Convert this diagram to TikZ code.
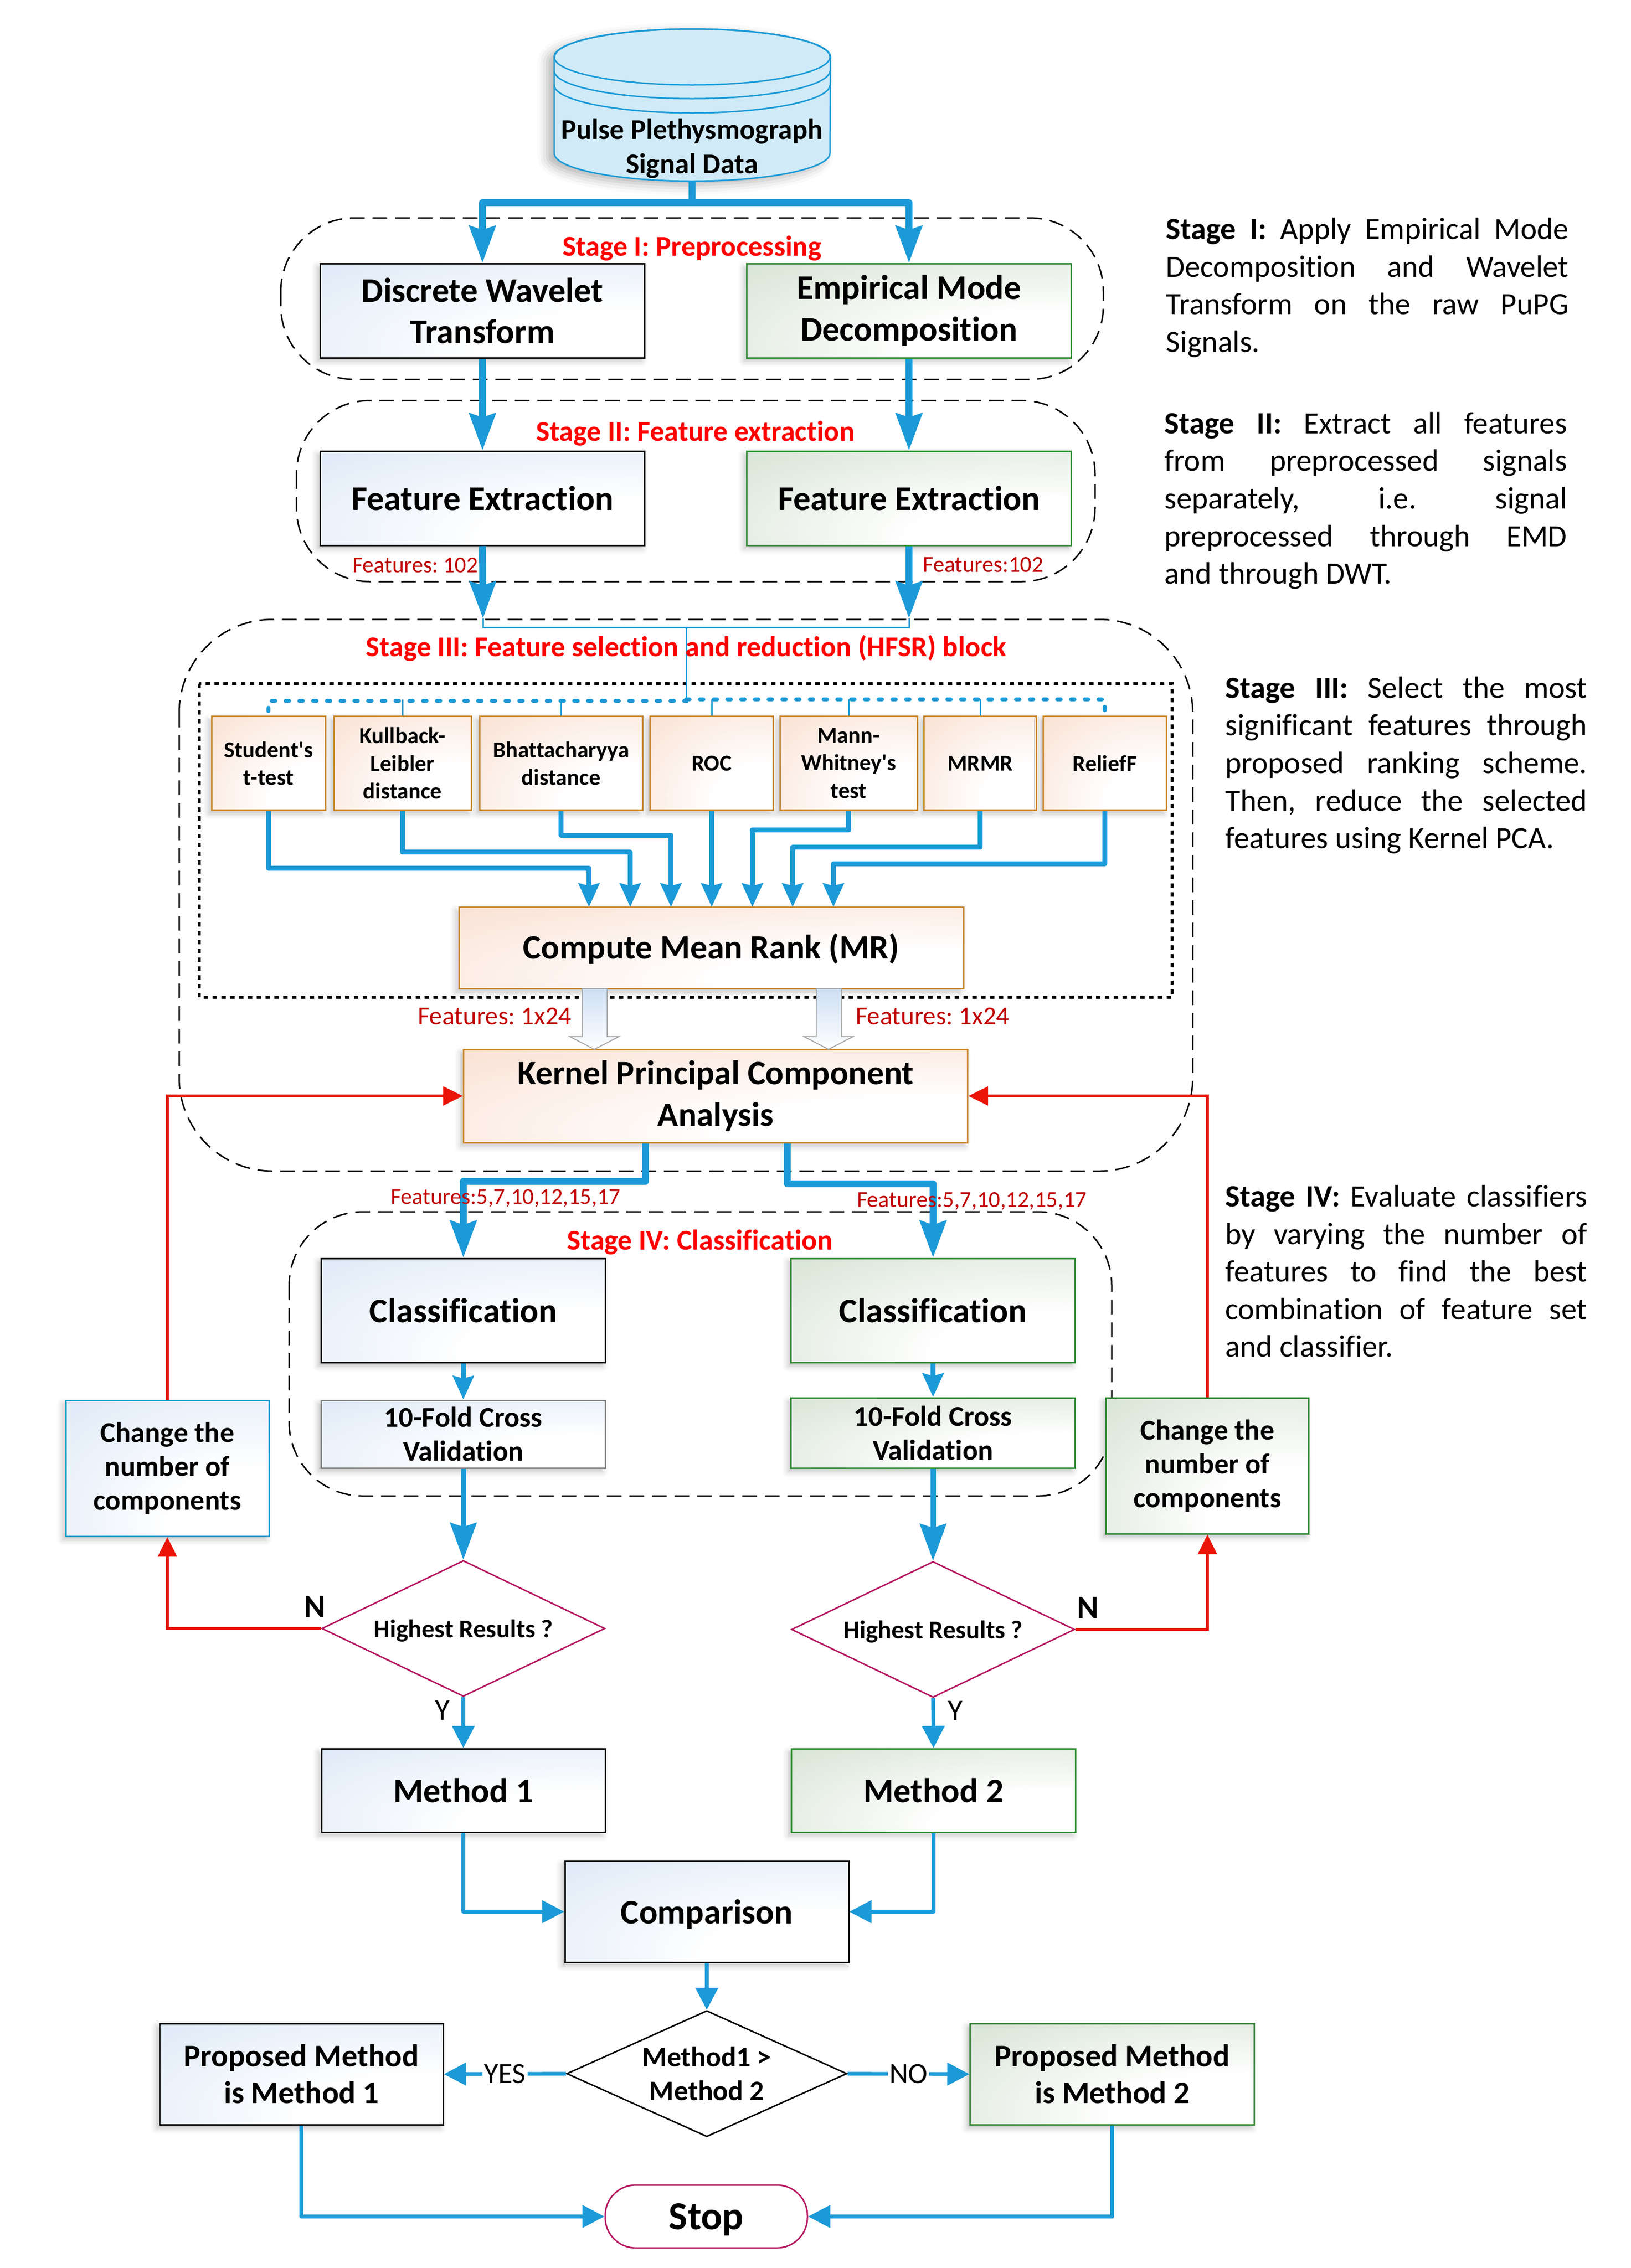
\documentclass[tikz,border=0pt]{standalone}
\usepackage{fontspec}
\setmainfont{Carlito}[Ligatures={TeXOff,NoCommon}]
\usepackage{xcolor}
\usetikzlibrary{shapes.geometric,arrows.meta,calc,shadows.blur}

\definecolor{flowblue}{HTML}{1B9AD7}
\definecolor{cylfill}{HTML}{D0EBF7}
\definecolor{bluetint}{HTML}{CEDFF3}
\definecolor{greentint}{HTML}{C4D7C0}
\definecolor{peachtint}{HTML}{F7D3BE}
\definecolor{greenedge}{HTML}{2E8B32}
\definecolor{orangeedge}{HTML}{C9872C}
\definecolor{crimson}{HTML}{B5165F}
\definecolor{featred}{HTML}{C00000}
\definecolor{loopred}{HTML}{EB1409}

\pgfdeclareradialshading{bluefade}{\pgfpoint{25bp}{-25bp}}{color(0bp)=(white); color(20bp)=(white); color(72bp)=(bluetint); color(120bp)=(bluetint)}
\pgfdeclareradialshading{greenfade}{\pgfpoint{25bp}{-25bp}}{color(0bp)=(white); color(20bp)=(white); color(72bp)=(greentint); color(120bp)=(greentint)}
\pgfdeclareradialshading{peachfade}{\pgfpoint{25bp}{-25bp}}{color(0bp)=(white); color(20bp)=(white); color(72bp)=(peachtint); color(120bp)=(peachtint)}

\tikzset{
    softshadow/.style={blur shadow={shadow xshift=-.06cm, shadow yshift=-.07cm, shadow blur radius=.12cm, shadow opacity=24}},
    basebox/.style={rectangle, inner sep=0pt, align=center, line width=.03cm, softshadow, font=\bfseries\fontsize{20}{24.1}\selectfont},
    bluebox/.style={basebox, draw=black, shade, shading=bluefade},
    greenbox/.style={basebox, draw=greenedge, shade, shading=greenfade},
    peachbox/.style={basebox, draw=orangeedge, shade, shading=peachfade},
    rankbox/.style={peachbox, minimum height=1.91cm, font=\bfseries\fontsize{13.2}{16}\selectfont},
    foldfont/.style={font=\bfseries\fontsize{16.6}{19.7}\selectfont},
    propfont/.style={font=\bfseries\fontsize{18.2}{21.3}\selectfont},
    decision/.style={diamond, shape aspect=2.083, draw=crimson, line width=.03cm, inner sep=0pt, text depth=0pt, align=center, minimum width=5.77cm, minimum height=2.77cm, font=\bfseries\fontsize{14.8}{18}\selectfont},
    stagebox/.style={dash pattern=on .3cm off .16cm, line width=.03cm},
    stagetitle/.style={text=red, inner sep=0pt, font=\bfseries\fontsize{16.6}{20}\selectfont},
    featlabel/.style={text=featred, inner sep=0pt, font=\fontsize{13.2}{18}\selectfont},
    sidetext/.style={inner sep=0pt, anchor=west, align=justify, font=\fontsize{17.9}{21.8}\selectfont},
    bigflow/.style={draw=flowblue, line width=.14cm, line join=round, -{Stealth[length=.75cm,width=.53cm,inset=.08cm]}, flowblue},
    midflow/.style={draw=flowblue, line width=.1cm, line join=round, -{Stealth[length=.48cm,width=.42cm,inset=.05cm]}, flowblue},
    smallflow/.style={draw=flowblue, line width=.075cm, line join=round, -{Stealth[length=.45cm,width=.45cm,inset=0pt]}, flowblue},
    redflow/.style={draw=loopred, line width=.055cm, -{Stealth[length=.4cm,width=.38cm,inset=0pt]}, loopred},
    hairline/.style={draw=flowblue, line width=.03cm},
    dotline/.style={draw=flowblue, line width=.08cm, line cap=round, dash pattern=on .07cm off .21cm},
    blockarrow/.style={draw=gray!70, line width=.02cm, top color=bluetint, bottom color=white},
    flowtag/.style={fill=white, text=black, inner sep=1pt, font=\fontsize{16.9}{20}\selectfont},
    branchtag/.style={inner sep=0pt, font=\fontsize{17.5}{20}\selectfont}
}

\begin{document}
\frenchspacing
\begin{tikzpicture}[x=1cm, y=-1cm]
    \useasboundingbox (0,0) rectangle (33.22,46.21);

    % Stage outlines
    \draw[stagebox, rounded corners=1.5cm] (5.72,4.44) rectangle (22.48,7.73);
    \draw[stagebox, rounded corners=1.5cm] (6.04,8.16) rectangle (22.31,11.85);
    \draw[stagebox, rounded corners=1.9cm] (3.65,12.62) rectangle (24.30,23.86);
    \draw[stagebox, rounded corners=1.5cm] (5.89,24.69) rectangle (22.65,30.48);
    \draw[line width=.055cm, dash pattern=on .09cm off .09cm] (4.06,13.93) rectangle (23.88,20.32);

    % Signal data (Cylinder)
    \draw[draw=flowblue, fill=cylfill, line width=.03cm, blur shadow={shadow xshift=-.14cm, shadow yshift=-.08cm, shadow blur radius=.2cm, shadow opacity=30}] (11.29,1.16) -- (11.29,3.12)
        arc[start angle=180, end angle=360, x radius=2.81cm, y radius=.57cm] -- (16.92,1.16)
        arc[start angle=0, end angle=180, x radius=2.81cm, y radius=.57cm] -- cycle;
    \draw[draw=flowblue, line width=.03cm] (14.10,1.16) ellipse [x radius=2.81cm, y radius=.57cm];
    \draw[draw=flowblue, line width=.03cm] (11.29,1.44) arc[start angle=180, end angle=360, x radius=2.81cm, y radius=.57cm];
    \draw[draw=flowblue, line width=.03cm] (11.29,1.73) arc[start angle=180, end angle=360, x radius=2.81cm, y radius=.57cm];
    \node[inner sep=0pt, align=center, font=\bfseries\fontsize{16.55}{19.8}\selectfont] (data) at (14.10,3.03) {Pulse Plethysmograph\\Signal Data};
    \coordinate (datafoot) at (14.10,3.69);
    \coordinate (split) at (14.10,4.13);

    % Stage I and II boxes
    \node[bluebox, minimum width=6.61cm, minimum height=1.92cm] (dwt) at (9.83,6.33) {Discrete Wavelet\\Transform};
    \node[greenbox, minimum width=6.61cm, minimum height=1.92cm] (emd) at (18.52,6.33) {Empirical Mode\\Decomposition};
    \node[bluebox, minimum width=6.61cm, minimum height=1.92cm] (feata) at (9.83,10.15) {Feature Extraction};
    \node[greenbox, minimum width=6.61cm, minimum height=1.92cm] (featb) at (18.52,10.15) {Feature Extraction};
    \coordinate (tipa) at (9.84,12.60);
    \coordinate (tipb) at (18.52,12.60);
    \coordinate (hub) at (13.98,12.78);
    \coordinate (hubdot) at (13.98,14.25);

    % Ranking methods
    \node[rankbox, minimum width=2.32cm] (ttest) at (5.47,15.55) {Student's\\t-test};
    \node[rankbox, minimum width=2.80cm] (kl) at (8.20,15.55) {Kullback-\\Leibler\\distance};
    \node[rankbox, minimum width=3.32cm] (bhatt) at (11.43,15.55) {Bhattacharyya\\distance};
    \node[rankbox, minimum width=2.51cm] (roc) at (14.50,15.55) {ROC};
    \node[rankbox, minimum width=2.80cm] (mann) at (17.29,15.55) {Mann-\\Whitney's\\test};
    \node[rankbox, minimum width=2.29cm] (mrmr) at (19.97,15.55) {MRMR};
    \node[rankbox, minimum width=2.51cm] (relief) at (22.51,15.55) {ReliefF};

    \node[peachbox, minimum width=10.28cm, minimum height=1.66cm, text depth=.06cm, font=\bfseries\fontsize{19.8}{24}\selectfont] (mean) at (14.49,19.31) {Compute Mean Rank (MR)};
    \node[peachbox, minimum width=10.27cm, minimum height=1.90cm, font=\bfseries\fontsize{19.8}{24.1}\selectfont] (kpca) at (14.58,22.33) {Kernel Principal Component\\Analysis};

    % Hollow arrows between mean rank and kernel step
    \draw[blockarrow] (11.86,20.14) -- (11.86,21.12) -- (11.61,21.12) -- (12.11,21.38) -- (12.61,21.12) -- (12.37,21.12) -- (12.37,20.14) -- cycle;
    \draw[blockarrow] (16.63,20.14) -- (16.63,21.12) -- (16.38,21.12) -- (16.88,21.38) -- (17.38,21.12) -- (17.14,21.12) -- (17.14,20.14) -- cycle;

    \coordinate (ina) at (12.00,18.48);
    \coordinate (inb) at (12.84,18.48);
    \coordinate (inc) at (13.67,18.48);
    \coordinate (ind) at (14.50,18.48);
    \coordinate (ine) at (15.33,18.48);
    \coordinate (inf) at (16.15,18.48);
    \coordinate (ing) at (16.98,18.48);

    % Stage IV boxes
    \node[bluebox, minimum width=5.79cm, minimum height=2.12cm] (classa) at (9.44,26.70) {Classification};
    \node[greenbox, minimum width=5.79cm, minimum height=2.12cm] (classb) at (19.01,26.70) {Classification};
    \node[basebox, foldfont, draw=gray, shade, shading=bluefade, minimum width=5.79cm, minimum height=1.38cm] (folda) at (9.44,29.22) {10-Fold Cross\\Validation};
    \node[greenbox, foldfont, minimum width=5.79cm, minimum height=1.43cm] (foldb) at (19.01,29.195) {10-Fold Cross\\Validation};
    \node[basebox, foldfont, draw=flowblue, shade, shading=bluefade, minimum width=4.14cm, minimum height=2.77cm] (changea) at (3.41,29.915) {Change the\\number of\\components};
    \node[greenbox, foldfont, minimum width=4.13cm, minimum height=2.77cm] (changeb) at (24.60,29.865) {Change the\\number of\\components};
    \node[decision] (besta) at (9.44,33.18) {Highest Results ?};
    \node[decision] (bestb) at (19.01,33.20) {Highest Results ?};

    % Final boxes
    \node[bluebox, minimum width=5.78cm, minimum height=1.70cm] (metha) at (9.44,36.48) {Method 1};
    \node[greenbox, minimum width=5.79cm, minimum height=1.70cm] (methb) at (19.02,36.48) {Method 2};
    \node[bluebox, minimum width=5.78cm, minimum height=2.06cm, text depth=0pt] (compare) at (14.40,38.95) {Comparison};
    \node[diamond, shape aspect=2.22, draw=black, line width=.03cm, inner sep=0pt, align=center, minimum width=5.71cm, minimum height=2.57cm, font=\bfseries\fontsize{16.4}{19.6}\selectfont] (choice) at (14.40,42.25) {Method1 >\\Method 2};
    \node[basebox, propfont, draw=black, shade, shading=bluefade, minimum width=5.78cm, minimum height=2.06cm] (propa) at (6.14,42.26) {Proposed Method\\is Method 1};
    \node[greenbox, propfont, minimum width=5.79cm, minimum height=2.06cm] (propb) at (22.66,42.26) {Proposed Method\\is Method 2};
    \node[draw=crimson, fill=white, rounded corners=.62cm, line width=.03cm, inner sep=0pt, text depth=0pt, minimum width=4.12cm, minimum height=1.28cm, font=\bfseries\fontsize{23}{26}\selectfont] (stop) at (14.39,45.16) {Stop};

    % Top connectors
    \draw[bigflow] (datafoot) -- (split) -| (dwt.north);
    \draw[bigflow] (datafoot) -- (split) -| (emd.north);
    \draw[bigflow] (dwt.south) -- (feata.north);
    \draw[bigflow] (emd.south) -- (featb.north);
    \draw[bigflow] (feata.south) -- (tipa);
    \draw[bigflow] (featb.south) -- (tipb);
    \draw[hairline] (tipa) |- (hub) -| (tipb);
    \draw[hairline] (hub) -- (hubdot);
    \draw[dotline] (hubdot) -- ++(0,.03) -| (ttest.north);
    \draw[dotline] (hubdot) -| (relief.north);
    \draw[hairline] (kl.north) -- (kl.north |- hubdot);
    \draw[hairline] (bhatt.north) -- (bhatt.north |- hubdot);
    \draw[hairline] (roc.north) -- (roc.north |- hubdot);
    \draw[hairline] (mann.north) -- (mann.north |- hubdot);
    \draw[hairline] (mrmr.north) -- (mrmr.north |- hubdot);

    % Ranks into mean rank
    \draw[midflow] (ttest.south) -- ++(0,1.17) -| (ina);
    \draw[midflow] (kl.south) -- ++(0,.84) -| (inb);
    \draw[midflow] (bhatt.south) -- ++(0,.50) -| (inc);
    \draw[midflow] (roc.south) -- (ind);
    \draw[midflow] (mann.south) -- ++(0,.39) -| (ine);
    \draw[midflow] (mrmr.south) -- ++(0,.74) -| (inf);
    \draw[midflow] (relief.south) -- ++(0,1.08) -| (ing);

    % Out of the kernel step
    \draw[bigflow] (kpca.south -| 13.15,0) -- ++(0,.77) -| (classa.north);
    \draw[bigflow] (kpca.south -| 16.04,0) -- ++(0,.82) -| (classb.north);
    \draw[midflow] (classa.south) -- (folda.north);
    \draw[midflow] (classb.south) -- (foldb.north);
    \draw[bigflow, line width=.11cm] (folda.south) -- (besta.north);
    \draw[bigflow, line width=.11cm] (foldb.south) -- (bestb.north);
    \draw[smallflow] (besta.south) -- (metha.north);
    \draw[smallflow] (bestb.south) -- (methb.north);

    % Loops back
    \draw[redflow] (besta.west) -| (changea.south);
    \draw[redflow] (bestb.east) -| (changeb.south);
    \draw[redflow] (changea.north) |- (kpca.west);
    \draw[redflow] (changeb.north) |- (kpca.east);

    % Bottom connectors
    \draw[smallflow] (metha.south) |- (compare.west);
    \draw[smallflow] (methb.south) |- (compare.east);
    \draw[smallflow] (compare.south) -- (choice.north);
    \draw[smallflow] (choice.west) -- node[flowtag] (yes) {YES} (propa.east);
    \draw[smallflow] (choice.east) -- node[flowtag] (no) {NO} (propb.west);
    \draw[smallflow] (propa.south) |- (stop.west);
    \draw[smallflow] (propb.south) |- (stop.east);

    % Red labels
    \node[stagetitle] (titlea) at (14.10,5.06) {Stage I: Preprocessing};
    \node[stagetitle] (titleb) at (14.17,8.83) {Stage II: Feature extraction};
    \node[stagetitle] (titlec) at (13.98,13.21) {Stage III: Feature selection and reduction (HFSR) block};
    \node[stagetitle] (titled) at (14.26,25.31) {Stage IV: Classification};
    \node[featlabel] (countaa) at (8.46,11.52) {Features: 102};
    \node[featlabel] (countab) at (20.03,11.51) {Features:102};
    \node[featlabel, font=\fontsize{15}{18}\selectfont] (countba) at (10.08,20.71) {Features: 1x24};
    \node[featlabel, font=\fontsize{15}{18}\selectfont] (countbb) at (19.00,20.71) {Features: 1x24};
    \node[featlabel] (countca) at (10.30,24.41) {Features:5,7,10,12,15,17};
    \node[featlabel] (countcb) at (19.80,24.47) {Features:5,7,10,12,15,17};

    % Branch letters
    \node[branchtag, font=\bfseries\fontsize{19}{20}\selectfont] (noa) at (6.41,32.74) {N};
    \node[branchtag, font=\bfseries\fontsize{19}{20}\selectfont] (nob) at (22.16,32.76) {N};
    \node[branchtag] (yesa) at (9.01,34.85) {Y};
    \node[branchtag] (yesb) at (19.46,34.86) {Y};

    % Side notes
    \node[sidetext, text width=8.20cm] (notea) at (23.75,5.86) {\textbf{Stage I:} Apply Empirical Mode\linebreak Decomposition and Wavelet\linebreak Transform on the raw PuPG\linebreak Signals.};
    \node[sidetext, text width=8.20cm] (noteb) at (23.72,10.20) {\textbf{Stage II:} Extract all features\linebreak from preprocessed signals\linebreak separately, i.e. signal\linebreak preprocessed through EMD\linebreak and through DWT.};
    \node[sidetext, text width=7.37cm] (notec) at (24.96,15.59) {\textbf{Stage III:} Select the most\linebreak significant features through\linebreak proposed ranking scheme.\linebreak Then, reduce the selected\linebreak features using Kernel PCA.};
    \node[sidetext, text width=7.37cm] (noted) at (24.96,25.90) {\textbf{Stage IV:} Evaluate classifiers\linebreak by varying the number of\linebreak features to find the best\linebreak combination of feature set\linebreak and classifier.};
\end{tikzpicture}
\end{document}
